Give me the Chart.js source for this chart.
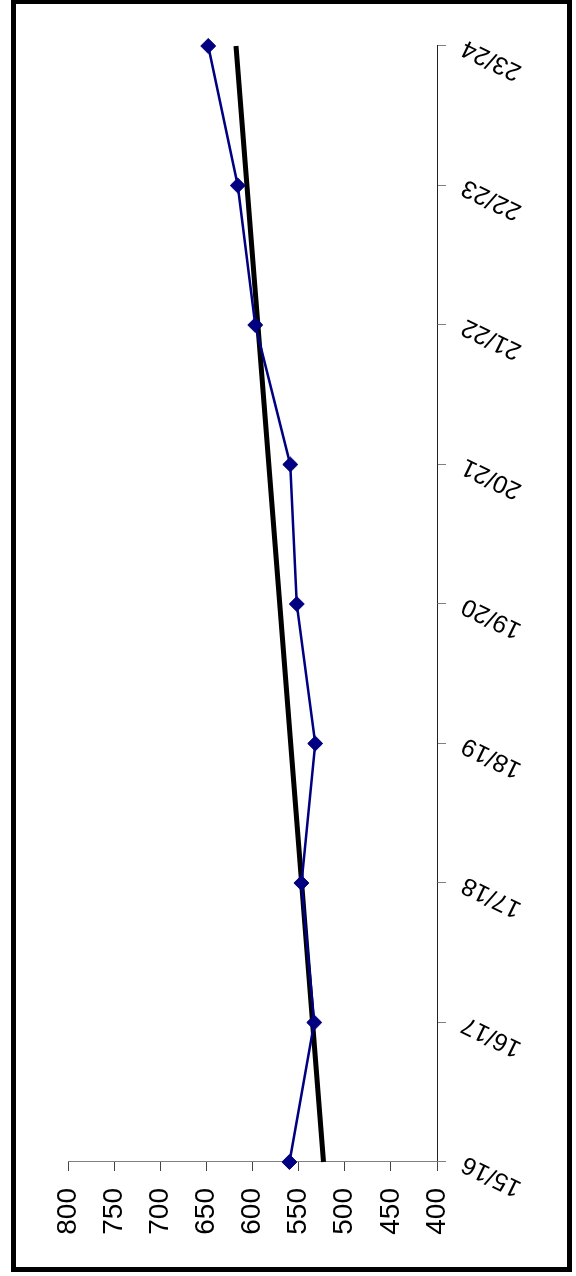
<!DOCTYPE html>
<html lang="en">

<head>
    <meta charset="UTF-8">
    <title>Seasons 15/16 - 23/24</title>
    <script src="https://cdn.jsdelivr.net/npm/chart.js@4"></script>
    <style>
        body {
            margin: 0;
            background: #ffffff;
            width: 576px;
            height: 1276px;
            overflow: hidden;
            position: relative;
        }

        /* chart is drawn landscape, then turned a quarter left like the original */
        #turn {
            position: absolute;
            left: 0;
            top: 0;
            width: 1276px;
            height: 576px;
            transform-origin: 0 0;
            transform: translateY(1276px) rotate(-90deg);
        }

        #frame {
            position: absolute;
            left: 11px;
            top: 0;
            width: 551px;
            height: 1263px;
            border: 5px solid #000000;
            border-top-width: 4px;
        }
    </style>
</head>

<body>
    <div id="turn">
        <canvas id="seasonChart" width="1276" height="576"></canvas>
    </div>
    <div id="frame"></div>

    <script>
        // values
        const seasons = ['15/16', '16/17', '17/18', '18/19', '19/20', '20/21', '21/22', '22/23', '23/24'];
        const seasonValues = [560, 533, 547, 532, 552, 559, 597, 616, 648];
        // straight trend line, only its two ends
        const trendValues = [523, null, null, null, null, null, null, null, 618];
        const axisMin = 400;
        const axisMax = 800;
        const axisStep = 50;

        const labelFont = 'Liberation Sans, Arial, sans-serif';

        const ctx = document.getElementById('seasonChart').getContext('2d');
        const seasonChart = new Chart(ctx, {
            type: 'line',
            data: {
                labels: seasons,
                datasets: [{
                    label: 'Value',
                    data: seasonValues,
                    borderColor: '#000080',
                    backgroundColor: '#000080',
                    borderWidth: 2.5,
                    pointStyle: 'rectRot',
                    pointRadius: 7.5,
                    pointBorderWidth: 1,
                    pointBorderColor: '#000080',
                    pointBackgroundColor: '#000080',
                    tension: 0
                }, {
                    label: 'Trend',
                    data: trendValues,
                    borderColor: '#000000',
                    borderWidth: 5,
                    borderCapStyle: 'butt',
                    pointRadius: 0,
                    spanGaps: true
                }]
            },
            options: {
                responsive: false,
                animation: false,
                layout: {
                    padding: { left: 0, top: 68, right: 46, bottom: 0 }
                },
                plugins: {
                    legend: { display: false },
                    tooltip: { enabled: false }
                },
                scales: {
                    x: {
                        offset: false,
                        grid: {
                            drawOnChartArea: false,
                            color: '#808080',
                            tickLength: 9
                        },
                        border: { color: '#222222' },
                        ticks: {
                            minRotation: 64,
                            maxRotation: 64,
                            color: '#000000',
                            padding: 11,
                            font: { family: labelFont, size: 25 }
                        },
                        afterFit: function (scale) {
                            scale.height = 139;
                        }
                    },
                    y: {
                        min: axisMin,
                        max: axisMax,
                        grid: {
                            drawOnChartArea: false,
                            color: '#444444',
                            tickLength: 9
                        },
                        border: { color: '#808080' },
                        ticks: {
                            stepSize: axisStep,
                            color: '#000000',
                            padding: 17,
                            font: { family: labelFont, size: 28 }
                        },
                        afterFit: function (scale) {
                            scale.width = 114;
                        }
                    }
                }
            }
        });
    </script>
</body>

</html>
